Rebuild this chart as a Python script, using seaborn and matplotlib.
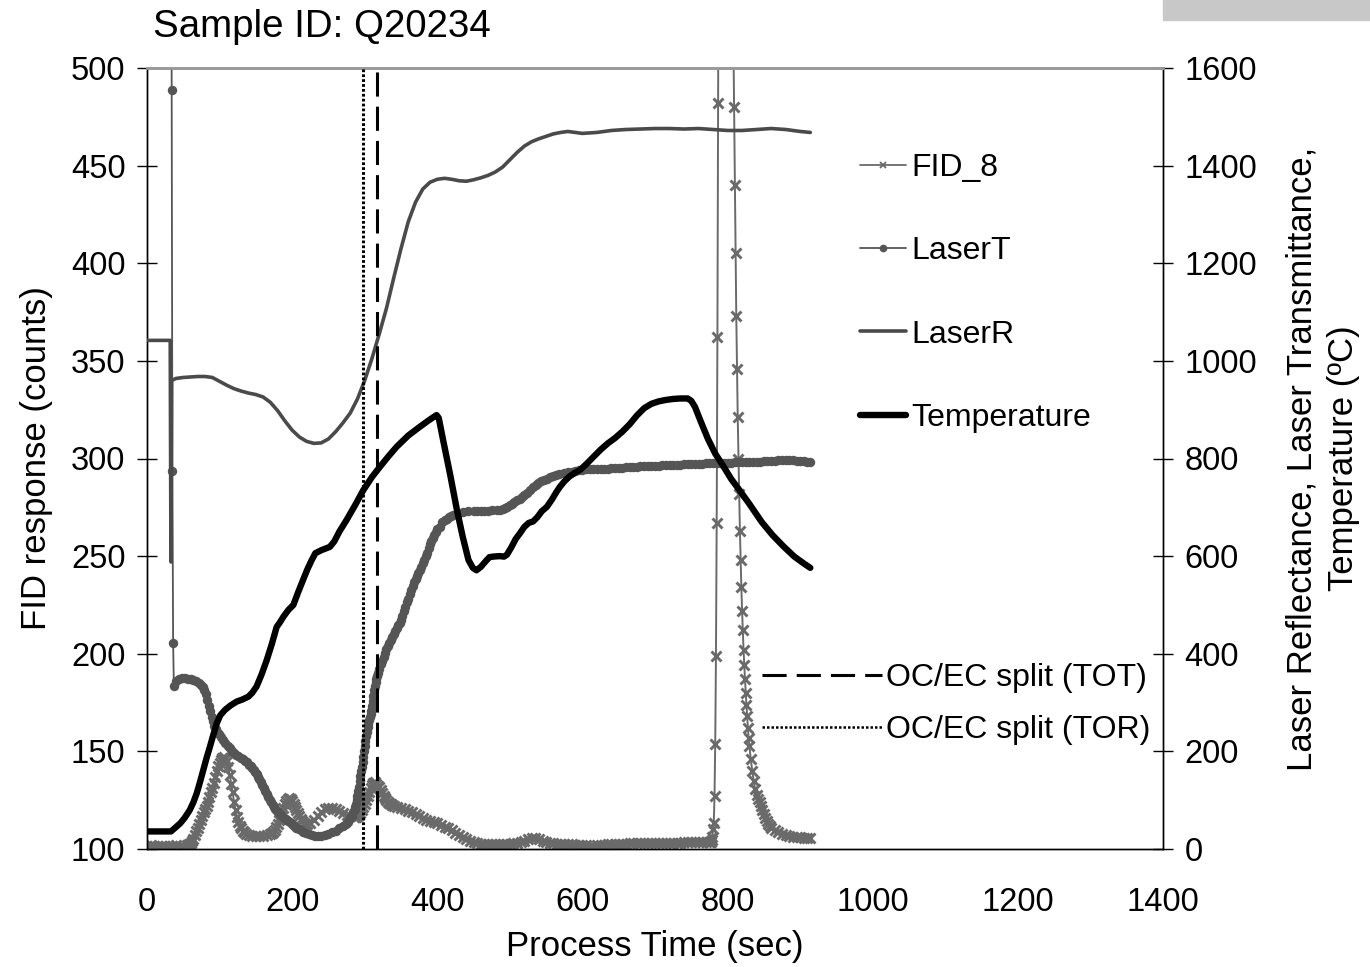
import matplotlib
matplotlib.use("Agg")
import matplotlib.pyplot as plt
from matplotlib.lines import Line2D
from matplotlib.patches import Rectangle
import seaborn as sns

# ---- data ----
# FID_8 on the left axis (counts)
fid_t = (list(range(0, 56, 5)) + list(range(56, 137, 2)) + [140, 145, 150, 155, 160, 165]
         + list(range(170, 221, 2)) + list(range(225, 286, 5)) + list(range(286, 341, 2))
         + list(range(345, 776, 5)) + list(range(776, 831))
         + list(range(832, 861, 2)) + [865, 870, 875, 880, 885, 890, 895, 900, 905, 910, 914])
fid_v = [
    # 0 .. 55
    101.5, 101.8, 101.4, 101.6, 101.5, 101.7, 101.5, 101.6, 101.8, 101.5, 101.7, 102.0,
    # 56 .. 136 every 2 s
    102.2, 102.6, 103.0, 104.0, 105.3, 107.0, 109.0, 111.0, 113.0, 115.0, 117.0, 119.0, 120.5, 122.0,
    124.0, 126.5, 129.0, 131.0, 134.0, 137.0, 140.0, 142.5, 144.0, 145.5, 146.8, 147.0, 146.3, 145.0,
    142.0, 138.0, 133.5, 129.0, 124.0, 120.0, 116.5, 114.0, 112.0, 110.5, 109.3, 108.5, 107.8,
    # 140 .. 165
    107.0, 106.5, 106.5, 106.5, 106.5, 107.0,
    # 170 .. 220 every 2 s
    107.5, 108.0, 108.7, 109.7, 111.3, 113.0, 115.0, 117.0, 119.0, 121.0, 123.0, 124.5, 125.5,
    126.0, 125.5, 124.5, 123.0, 121.5, 120.0, 118.5, 117.0, 115.5, 114.3, 113.5, 113.0, 113.0,
    # 225 .. 285
    113.5, 115.0, 117.0, 119.0, 120.5, 121.0, 121.0, 120.5, 119.5, 118.5, 117.5, 117.0, 116.5,
    # 286 .. 340 every 2 s
    116.5, 116.6, 117.0, 117.6, 118.5, 119.8, 121.5, 123.0, 125.0, 127.0, 129.0, 131.0, 133.0, 134.0,
    134.2, 133.5, 132.5, 131.5, 130.0, 128.6, 127.2, 126.0, 125.0, 124.2, 123.5, 123.0, 122.5, 122.0,
    # 345 .. 395
    121.5, 121.0, 120.5, 119.5, 119.0, 118.0, 117.0, 116.0, 115.0, 114.5, 114.0,
    # 400 .. 775
    113.5, 112.5, 111.5, 110.5, 109.5, 108.0, 107.0, 106.0, 105.0, 104.0, 103.5, 103.0, 102.5, 102.5, 102.5, 102.5, 102.5, 102.6, 102.5, 102.7,
    102.8, 103.0, 103.0, 103.5, 104.0, 105.0, 105.5, 105.5, 105.0, 104.0, 103.5, 103.0, 103.0, 102.8, 102.6, 102.5, 102.4, 102.4, 102.3, 102.2,
    102.0, 101.8, 101.6, 101.6, 101.8, 102.0, 102.3, 102.5, 102.6, 102.7, 102.8, 102.8, 102.8, 102.9, 102.9, 103.0, 103.0, 103.0, 103.0, 103.0,
    103.0, 103.0, 103.1, 103.1, 103.2, 103.2, 103.3, 103.3, 103.4, 103.4, 103.5, 103.5, 103.6, 103.6, 103.6, 103.6,
    # 776 .. 830, one per second (calibration peak)
    103.5, 103.7, 104.5, 106.0, 110.0, 113.5, 127.0, 154.0, 199.0, 267.0, 362.0, 482.0,
    620.0, 740.0, 850.0, 940.0, 1010.0, 1050.0, 1080.0, 1100.0, 1100.0, 1090.0, 1060.0, 1020.0, 970.0, 910.0,
    840.0, 770.0, 700.0, 640.0, 590.0, 550.0, 515.0,
    480.0, 440.0, 405.0, 373.0, 346.0, 321.0, 300.0, 282.0, 263.0, 248.0, 234.0, 222.0, 212.0, 202.0, 194.0,
    187.0, 180.0, 174.0, 168.0, 162.0, 157.0, 153.0,
    # 832 .. 860 every 2 s
    146.0, 140.0, 135.0, 130.5, 127.5, 125.5, 124.0, 122.0, 120.0, 118.0, 116.0, 114.5, 113.0, 112.0, 111.0,
    # tail
    109.5, 108.5, 107.8, 107.2, 106.8, 106.4, 106.1, 105.9, 105.7, 105.5, 105.4,
]

# LaserT on the right axis
lt_t = ([0, 33, 34, 35, 36, 37, 40, 44, 48, 52, 56, 60, 64, 68, 72, 75, 77, 79, 81, 83, 85, 87, 89,
         91, 93, 95, 97, 99, 102, 105, 108, 111, 114, 117, 120, 123, 126, 129, 132, 135, 138, 141,
         143, 145, 147, 149, 151, 153, 155, 157, 159, 161, 163, 165, 167, 169, 171, 173, 175, 177,
         179, 181, 183, 185, 188, 191, 194, 197, 200, 203, 206, 209, 212, 215, 219, 223, 227, 231,
         235, 240, 245, 250, 255, 260, 265, 270, 274, 277, 280, 282, 284, 286, 287, 288]
        + list(range(289, 319)) + list(range(320, 402, 2))
        + [404, 407, 410, 413, 416, 419, 422, 428, 435, 442, 450, 455, 460, 465, 470, 476, 482, 486,
           490, 493, 496, 500, 503, 506, 510, 514, 517, 520, 524, 528, 532, 536, 539, 543, 547, 551,
           555, 559, 563, 568, 574, 580, 585, 590, 595]
        + list(range(600, 911, 5)) + [914])
lt_v = [2600, 2600, 1555, 774, 422, 334, 345, 349, 350, 350, 349, 348, 347, 345, 341, 336, 331, 326, 318, 305, 293, 282, 271,
        262, 253, 246, 240, 235, 229, 223, 217, 212, 206, 201, 197, 193, 190, 187, 184, 181, 178, 173,
        170, 166, 162, 158, 153, 148, 143, 137, 131, 124, 118, 112, 106, 101, 96, 91, 86, 82,
        78, 75, 72, 70, 66, 62, 58, 55, 51, 47, 44, 41, 38, 35.5, 33, 30, 28.3, 27.2,
        26.6, 27, 28.5, 31, 34, 37.5, 42, 47, 51.5, 56, 63, 68, 75, 82, 87, 93,
        # 289 .. 318 every second
        100, 108, 118, 128, 139, 149, 159, 169, 179, 189, 200, 211, 221, 231, 240,
        249, 257, 264, 271, 277, 283, 293, 303, 314, 325, 334, 343, 349, 355, 360,
        # 320 .. 400 every 2 s
        369, 378, 386, 393, 401, 410, 416, 422, 428, 434, 440, 446, 452, 458, 464, 470, 478, 487, 496, 505, 513,
        522, 530, 538, 546, 553, 559, 565, 571, 578, 586, 593, 600, 607, 616, 625, 631, 637, 643, 650, 655,
        # 404 .. 595
        659, 669, 674, 677, 680, 682, 684, 687, 690, 692, 693, 693, 693, 693, 693, 694, 694, 695,
        697, 699, 701, 704, 707, 710, 714, 718, 721, 725, 730, 735, 741, 746, 749, 753, 756, 759,
        762, 764, 766, 768, 770, 772, 773, 775, 776,
        # 600 .. 910 every 5 s, then 914
        777, 777.5, 778, 778.5, 779, 778.5, 778, 779, 780, 780.5, 781, 781.5, 782, 782, 782, 783,
        784, 784.5, 785, 785, 785, 785.5, 786, 786.5, 787, 787, 787, 787.5, 788, 788.5, 789, 789,
        789, 789.5, 790, 790, 790, 790.5, 791, 791, 791, 791.5, 792, 792, 792, 792.5, 793, 793,
        793, 793.5, 794, 794.5, 795, 795.5, 796, 796.5, 797, 796.5, 796, 795.5, 795, 794, 793, 792]

# LaserR on the right axis
lr_t = [0, 32, 33, 34, 40, 50, 60, 70, 80, 90, 100, 110, 120, 130, 140, 150, 160, 170, 180, 190,
        200, 210, 220, 230, 240, 250, 260, 270, 280, 290, 300, 310, 320, 330, 340, 350, 360, 370,
        380, 390, 400, 410, 420, 430, 440, 450, 460, 470, 480, 490, 500, 510, 520, 530, 540, 550,
        560, 570, 580, 590, 600, 620, 640, 660, 680, 700, 720, 740, 760, 780, 800, 820, 840, 860,
        880, 900, 914]
lr_v = [1042, 1042, 588, 960, 964, 966, 967, 968, 968, 966, 958, 950, 943, 938, 934, 931, 926, 915, 898, 877,
        858, 844, 835, 831, 832, 840, 855, 873, 893, 922, 960, 1005, 1055, 1108, 1170, 1230, 1285, 1325,
        1352, 1366, 1372, 1374, 1372, 1369, 1368, 1371, 1375, 1380, 1387, 1397, 1412, 1427, 1440, 1449, 1455, 1460,
        1465, 1468, 1470, 1468, 1466, 1468, 1472, 1474, 1475, 1476, 1476, 1475, 1476, 1474, 1472, 1472, 1474, 1476,
        1474, 1470, 1468]

# Temperature on the right axis (deg C)
temp_t = [0, 33, 40, 46, 52, 59, 64, 68.5, 73, 77.6, 82, 86.8, 91, 96, 101, 107.5, 115, 123.6, 131,
          139.6, 145, 151, 158, 165, 172, 178.7, 183, 188, 195, 201.7, 208, 215, 221, 227, 232, 240,
          252, 258, 265, 275, 287, 298, 310, 321, 333, 344, 360, 376, 388, 399, 402, 408, 418, 427,
          435, 443, 449, 454, 460, 467, 472, 477, 486, 492, 496, 502, 508, 514, 520, 526, 532, 538,
          544, 551, 558, 564, 569, 575, 582, 590, 597, 605, 615, 625, 635, 645, 655, 665, 675, 685,
          695, 705, 715, 725, 735, 745, 750, 755, 763, 773, 783, 793, 805, 815, 830, 847, 862, 877,
          892, 905, 914]
temp_v = [36, 36, 45, 53, 64, 80, 96, 114, 137, 162, 186, 210, 232, 257, 274, 285, 294, 302, 306,
          312, 320, 333, 358, 387, 420, 455, 464, 476, 490, 500, 525, 551, 573, 592, 606, 612,
          619, 630, 650, 674, 705, 735, 762, 783, 805, 824, 847, 865, 878, 889, 883, 838, 765, 695,
          640, 592, 576, 571, 578, 590, 598, 599, 600, 599, 603, 618, 635, 647, 660, 668, 671, 680,
          692, 701, 716, 731, 742, 753, 763, 771, 777, 788, 803, 818, 831, 842, 855, 870, 888, 903,
          912, 917, 920, 922, 923, 923, 918, 906, 876, 840, 810, 787, 758, 738, 707, 670, 643, 620,
          599, 585, 576]

# OC/EC split times (sec)
split_tot = 317
split_tor = 297.5

sample_id = "Q20234"

# ---- style ----
sns.set_theme(style="white")
plt.rcParams["font.family"] = ["Liberation Sans", "DejaVu Sans"]
plt.rcParams["text.color"] = "black"
plt.rcParams["axes.labelcolor"] = "black"
plt.rcParams["xtick.color"] = "black"
plt.rcParams["ytick.color"] = "black"
plt.rcParams["axes.edgecolor"] = "black"

fig = plt.figure(figsize=(13.7, 9.67), dpi=100)
ax = fig.add_axes([147 / 1370, 1 - 849 / 967, 1016 / 1370, 781 / 967])
ax2 = ax.twinx()

fid_col = "#6a6a6a"
lt_col = "#555555"
lr_col = "#4a4a4a"

sns.lineplot(x=fid_t, y=fid_v, ax=ax, color=fid_col, linewidth=1.4, marker="x",
             markersize=7, markeredgewidth=2.1, markeredgecolor=fid_col,
             legend=False, zorder=2)
sns.lineplot(x=lt_t, y=lt_v, ax=ax2, color=lt_col, linewidth=1.3, marker="o",
             markersize=6.8, markeredgewidth=0, markerfacecolor=lt_col,
             legend=False, zorder=2)
sns.lineplot(x=lr_t, y=lr_v, ax=ax2, color=lr_col, linewidth=2.6, legend=False, zorder=3)
sns.lineplot(x=temp_t, y=temp_v, ax=ax2, color="black", linewidth=4.6, legend=False, zorder=4)

ax2.axvline(split_tot, color="black", linewidth=2.2, dashes=(7.9, 3.3), zorder=5)
ax2.axvline(split_tor, color="black", linewidth=2.2, dashes=(0.9, 0.7), zorder=5)

# ---- axes ----
ax.set_xlim(0, 1400)
ax.set_ylim(100, 500)
ax2.set_ylim(0, 1600)
ax.set_xticks(range(0, 1401, 200))
ax.set_yticks(range(100, 501, 50))
ax2.set_yticks(range(0, 1601, 200))

for a in (ax, ax2):
    for s in a.spines.values():
        s.set_color("black")
        s.set_linewidth(1.0)
    a.spines["top"].set_color("#9a9a9a")
    a.spines["top"].set_linewidth(2.0)
    a.grid(False)

ax.tick_params(axis="both", direction="inout", length=15, width=1, labelsize=23.5,
               colors="black", pad=8)
ax.tick_params(axis="x", pad=20)
ax2.tick_params(axis="y", direction="inout", length=15, width=1, labelsize=23.5,
                colors="black", pad=8)

ax.set_xlabel("Process Time (sec)", fontsize=25)
ax.set_ylabel("FID response (counts)", fontsize=25)
ax2.set_ylabel("Laser Reflectance, Laser Transmittance,\nTemperature (ºC)", fontsize=25,
               linespacing=1.3)
ax.xaxis.set_label_coords(0.5, -0.1035)
ax.yaxis.set_label_coords(-0.0925, 0.5)
ax2.yaxis.set_label_coords(1.121, 0.5)

fig.text(153 / 1370, 1 - 37 / 967, "Sample ID: " + sample_id, fontsize=27.7,
         ha="left", va="baseline")

fig.patches.append(Rectangle((1163 / 1370, 1 - 20 / 967), 207 / 1370, 20 / 967,
                             transform=fig.transFigure, color="#c8c8c8", zorder=0))

# ---- legends ----
h1 = [
    Line2D([], [], color=fid_col, linewidth=1.3, marker="x", markersize=4.5, markeredgewidth=1.3),
    Line2D([], [], color=lt_col, linewidth=1.3, marker="o", markersize=4.5),
    Line2D([], [], color=lr_col, linewidth=2.6),
    Line2D([], [], color="black", linewidth=4.6),
]
fig.legend(h1, ["FID_8", "LaserT", "LaserR", "Temperature"], loc="center left",
           bbox_to_anchor=(860 / 1370, 1 - 293 / 967), frameon=False, fontsize=23,
           handlelength=1.45, handletextpad=0.15, labelspacing=1.67,
           borderpad=0, borderaxespad=0)

h2 = [
    Line2D([], [], color="black", linewidth=2.2, dashes=(7.9, 3.3)),
    Line2D([], [], color="black", linewidth=1.8, dashes=(1, 0.8)),
]
fig.legend(h2, ["OC/EC split (TOT)", "OC/EC split (TOR)"], loc="center left",
           bbox_to_anchor=(762 / 1370, 1 - 704 / 967), frameon=False, fontsize=23,
           handlelength=3.75, handletextpad=0.13, labelspacing=0.67,
           borderpad=0, borderaxespad=0)

fig.savefig("out.png", dpi=100)
